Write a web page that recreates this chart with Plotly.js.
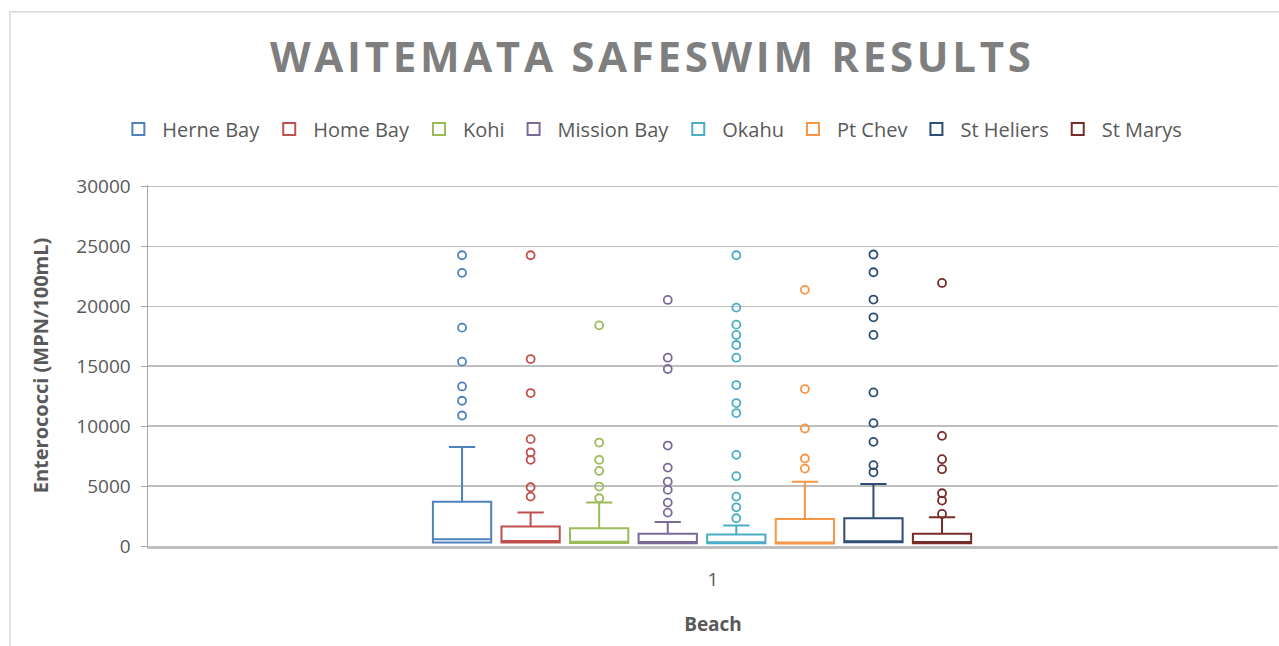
<!DOCTYPE html>
<html>
<head>
<meta charset="utf-8">
<script src="https://cdn.plot.ly/plotly-3.0.1.min.js"></script>
<style>
html,body{margin:0;padding:0;background:#fff;}
#chart{width:1279px;height:646px;}
.gtitle{letter-spacing:3.7px;}
</style>
</head>
<body>
<div id="chart"></div>
<script>
const beaches = ["Herne Bay","Home Bay","Kohi","Mission Bay","Okahu","Pt Chev","St Heliers","St Marys"];
const colors = ["#4F81BD","#C0504D","#9BBB59","#7A6A98","#4BACC6","#F79646","#2C4D75","#772C2A"];
const q1 = [300, 300, 250, 230, 230, 200, 310, 230];
const median = [560, 420, 350, 330, 320, 300, 400, 330];
const q3 = [3700, 1620, 1480, 1030, 950, 2260, 2320, 1030];
const upperFence = [8270, 2790, 3620, 2000, 1700, 5370, 5180, 2400];
const outliersHerneBay = [24260, 22790, 18220, 15380, 13310, 12120, 10890];
const outliersHomeBay = [24260, 15600, 12760, 8915, 7800, 7190, 4900, 4120];
const outliersKohi = [18410, 8630, 7190, 6270, 4960, 3985];
const outliersMissionBay = [20530, 15710, 14770, 8380, 6540, 5370, 4680, 3620, 2785];
const outliersOkahu = [24260, 19890, 18470, 17610, 16770, 15710, 13430, 11925, 11090, 7605, 5825, 4120, 3230, 2315];
const outliersPtChev = [21370, 13095, 9805, 7300, 6460];
const outliersStHeliers = [24320, 22840, 20560, 19080, 17610, 12810, 10250, 8690, 6740, 6150];
const outliersStMarys = [21950, 9190, 7245, 6410, 4400, 3790, 2675];
const outliers = [outliersHerneBay, outliersHomeBay, outliersKohi, outliersMissionBay, outliersOkahu, outliersPtChev, outliersStHeliers, outliersStMarys];
const xTickLabels = ["1"];

const traces = [];
beaches.forEach((b, i) => {
  traces.push({
    type: "box",
    name: b,
    x: [i],
    q1: [q1[i]], median: [median[i]], q3: [q3[i]],
    lowerfence: [q1[i]], upperfence: [upperFence[i]],
    width: 0.85,
    whiskerwidth: 0.45,
    line: {color: colors[i], width: 2},
    fillcolor: "rgba(255,255,255,0)",
    boxpoints: false,
    legendgroup: b,
    hoverinfo: "y"
  });
});
beaches.forEach((b, i) => {
  traces.push({
    type: "scatter",
    mode: "markers",
    name: b,
    x: outliers[i].map(() => i),
    y: outliers[i],
    marker: {symbol: "circle-open", size: 8, color: colors[i], line: {width: 1.8, color: colors[i]}},
    showlegend: false,
    legendgroup: b,
    hoverinfo: "y"
  });
});

const x0 = -4.58, x1 = 11.9;
const layout = {
  width: 1279, height: 646,
  margin: {l: 148, r: 1, t: 185, b: 100},
  paper_bgcolor: "#ffffff",
  plot_bgcolor: "#ffffff",
  font: {family: "Open Sans, sans-serif", color: "#595959", size: 19},
  title: {
    text: "<b>WAITEMATA SAFESWIM RESULTS</b>",
    font: {family: "Open Sans, sans-serif", size: 42, color: "#7F7F7F"},
    x: 0.51, xanchor: "center", y: 0.912, yanchor: "middle"
  },
  showlegend: true,
  legend: {
    orientation: "h", x: 0.445, xanchor: "center", y: 1.155, yanchor: "middle",
    font: {size: 20, color: "#595959"},
    traceorder: "normal",
    itemwidth: 38
  },
  xaxis: {
    range: [x0, x1],
    tickvals: [(x0 + x1) / 2], ticktext: xTickLabels,
    showgrid: false, zeroline: false,
    showline: true, linecolor: "#BFBFBF", linewidth: 3,
    ticks: "", tickfont: {size: 19, color: "#595959"},
    ticklabelstandoff: 14,
    title: {text: "<b>Beach</b>", font: {size: 19, color: "#595959"}, standoff: 27}
  },
  yaxis: {
    range: [0, 30120], dtick: 5000,
    showgrid: true, gridcolor: "#BFBFBF", gridwidth: 1.5,
    zeroline: false, showline: true, linecolor: "#A6A6A6", linewidth: 1.5,
    ticks: "outside", ticklen: 6, tickcolor: "#A6A6A6",
    tickfont: {size: 19, color: "#595959"},
    ticklabelstandoff: 6,
    tickformat: "d",
    title: {text: "<b>Enterococci (MPN/100mL)</b>", font: {size: 20, color: "#595959"}, standoff: 22}
  },
  shapes: [{
    type: "rect", xref: "paper", yref: "paper",
    x0: (10 - 148) / 1130, x1: 1.01, y0: -0.5, y1: 1.48,
    line: {color: "#D9D9D9", width: 1.5}, fillcolor: "rgba(0,0,0,0)", layer: "below"
  }]
};

Plotly.newPlot("chart", traces, layout, {displayModeBar: false, staticPlot: true});
</script>
</body>
</html>
